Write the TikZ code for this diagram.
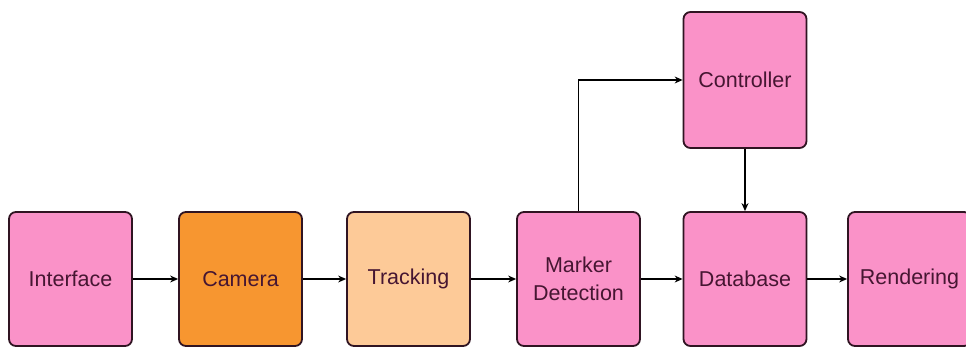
\documentclass[tikz,border=0pt]{standalone}
\usepackage{fontspec}
\setmainfont{Liberation Sans}
\usepackage{tikz}
\usetikzlibrary{arrows.meta}
\definecolor{boxpink}{RGB}{250,146,200}
\definecolor{boxorange}{RGB}{247,150,48}
\definecolor{boxpeach}{RGB}{253,202,152}
\definecolor{boxline}{RGB}{48,20,34}
\definecolor{boxtext}{RGB}{70,22,50}
\begin{document}
\begin{tikzpicture}[x=1pt,y=-1pt,
  block/.style={draw=boxline, line width=1.8pt, rounded corners=7pt,
    minimum width=123pt, minimum height=134pt, align=center,
    text=boxtext, font=\fontsize{21.5}{28}\selectfont},
  flow/.style={-{Stealth[length=8pt,width=7pt]}, line width=1.1pt, black}]
%%%%%%%%%%%%%%%%%%Fix The Picture Size%%%%%%%%%%%%%%%
\useasboundingbox[fill=white] (0,0) rectangle (966,348);

%%%%%%%%%%%%%%%%%%Draw The Main Row%%%%%%%%%%%%%%%%%%
\node[block, fill=boxpink] (interface) at (70.5,279) {Interface};
\node[block, fill=boxorange] (camera) at (240.5,279) {Camera};
\node[block, fill=boxpeach] (tracking) at (408.5,279) {Tracking};
\node[block, fill=boxpink] (marker) at (578.5,279) {Marker\\Detection};
\node[block, fill=boxpink] (database) at (745,279) {Database};
\node[block, fill=boxpink] (rendering) at (909.5,279) {Rendering};

%%%%%%%%%%%%%%%%%%Draw The Controller%%%%%%%%%%%%%%%%
\node[block, fill=boxpink, minimum height=136pt] (controller) at (745,80) {Controller};

%%%%%%%%%%%%%%%%%%Draw The Arrows%%%%%%%%%%%%%%%%%%%%
\draw[flow] (interface) -- (camera);
\draw[flow] (camera) -- (tracking);
\draw[flow] (tracking) -- (marker);
\draw[flow] (marker) -- (database);
\draw[flow] (database) -- (rendering);
\draw[flow] (marker.north) |- (controller.west);
\draw[flow] (controller) -- (database);

\end{tikzpicture}
\end{document}
